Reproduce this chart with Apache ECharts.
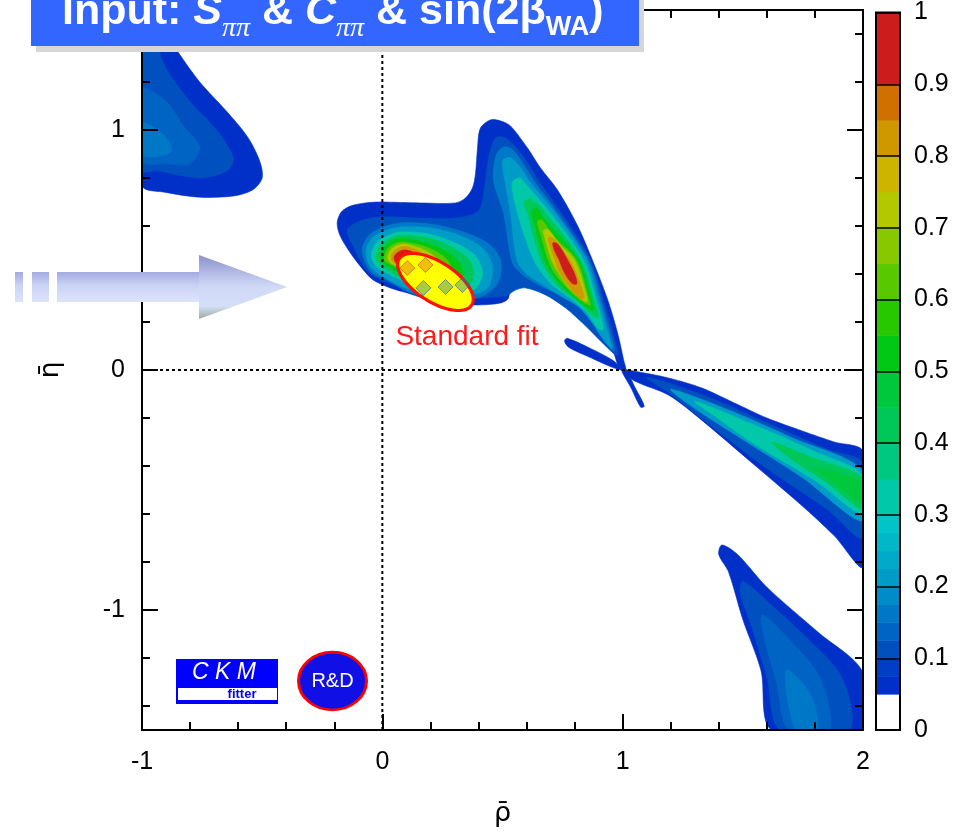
<!DOCTYPE html>
<html>
<head>
<meta charset="utf-8">
<title>CKM fit: S_pipi & C_pipi & sin(2beta_WA)</title>
<script src="https://cdn.jsdelivr.net/npm/echarts@6.0.0/dist/echarts.min.js"></script>
<style>
html,body{margin:0;padding:0;background:#fff;}
#chart{width:957px;height:832px;}
</style>
</head>
<body>
<div id="chart"></div>
<script>
// ================= DATA =================
const rhoRange = [-1, 2];
const etaRange = [-1.5, 1.5];
const xTickValues = [-1, 0, 1, 2];
const yTickValues = [-1, 0, 1];
const yMinorTickValues = [-1.4, -1.2, -0.8, -0.6, -0.4, -0.2, 0.2, 0.4, 0.6, 0.8, 1.2, 1.4];
const colorBarRange = [0, 1];

// confidence-level colour scale (band edges and their colours)
const clBandEdges = [0, 0.05, 0.075, 0.1, 0.125, 0.15, 0.175, 0.2, 0.225, 0.25, 0.275, 0.3,
  0.35, 0.4, 0.45, 0.5, 0.55, 0.6, 0.65, 0.7, 0.75, 0.8, 0.85, 0.9, 1.0];
const clPalette = ['#ffffff', '#0030c8', '#003ec8', '#0050c0', '#0064c4', '#0078c8', '#008cc8',
  '#009cc8', '#00aac8', '#00b8c8', '#00c4c8', '#00c8a8', '#00c880', '#00c858', '#00c83c',
  '#00c814', '#28c800', '#58c800', '#88c800', '#b4c800', '#ccb400', '#d09800', '#d07000', '#cc1c1c'];

// CL contours (rho, eta) : region inside ring has CL >= cl
const upperLeftBlob = [
  { cl: 0.05, ring: [[-1, 1.5], [-0.97, 1.5], [-0.9, 1.4], [-0.84, 1.31], [-0.76, 1.2], [-0.65, 1.08], [-0.56, 0.97], [-0.51, 0.87], [-0.5, 0.8], [-0.54, 0.75], [-0.62, 0.725], [-0.76, 0.72], [-0.9, 0.74], [-1, 0.77]] },
  { cl: 0.1, ring: [[-1, 1.5], [-0.95, 1.5], [-0.92, 1.3], [-0.81, 1.13], [-0.69, 1.0], [-0.62, 0.885], [-0.645, 0.83], [-0.76, 0.8], [-0.94, 0.83], [-1, 0.83]] },
  { cl: 0.125, ring: [[-1, 1.17], [-0.9, 1.12], [-0.83, 1.02], [-0.76, 0.93], [-0.8, 0.86], [-0.9, 0.86], [-1, 0.87]] },
  { cl: 0.16, ring: [[-1, 1.03], [-0.9, 0.97], [-0.88, 0.91], [-0.94, 0.89], [-1, 0.9]] }
];

const centralBlob = [
  { cl: 0.05, ring: [[-0.188, 0.613], [-0.171, 0.658], [-0.133, 0.683], [-0.071, 0.696], [-0.008, 0.7], [0.158, 0.696], [0.304, 0.696], [0.346, 0.717], [0.375, 0.758], [0.388, 0.821], [0.396, 0.925], [0.408, 1.008], [0.45, 1.042], [0.492, 1.038], [0.533, 1.017], [0.604, 0.925], [0.658, 0.842], [0.729, 0.75], [0.813, 0.6], [0.879, 0.446], [0.938, 0.292], [0.979, 0.154], [1.004, 0.042], [1.013, 0.0], [0.983, 0.017], [0.963, 0.071], [0.929, 0.133], [0.867, 0.217], [0.783, 0.3], [0.688, 0.371], [0.604, 0.4], [0.542, 0.404], [0.529, 0.363], [0.525, 0.3], [0.492, 0.279], [0.388, 0.271], [0.242, 0.279], [0.104, 0.321], [0.033, 0.342], [-0.038, 0.375], [-0.079, 0.417], [-0.133, 0.488], [-0.175, 0.558]] },
  { cl: 0.1, ring: [[-0.146, 0.583], [-0.092, 0.621], [-0.008, 0.638], [0.158, 0.633], [0.304, 0.633], [0.4, 0.663], [0.425, 0.758], [0.442, 0.883], [0.471, 0.967], [0.513, 0.967], [0.58, 0.9], [0.65, 0.79], [0.745, 0.654], [0.867, 0.458], [0.92, 0.292], [0.96, 0.15], [0.978, 0.06], [0.929, 0.1], [0.846, 0.183], [0.763, 0.258], [0.679, 0.313], [0.596, 0.342], [0.554, 0.333], [0.513, 0.308], [0.408, 0.3], [0.283, 0.279], [0.117, 0.333], [0.013, 0.367], [-0.058, 0.408], [-0.092, 0.458], [-0.117, 0.508]] }
];

const leftLobe = [
  { cl: 0.15, ring: [[-0.075, 0.458], [-0.083, 0.508], [-0.058, 0.558], [-0.008, 0.592], [0.075, 0.613], [0.2, 0.608], [0.325, 0.579], [0.438, 0.529], [0.492, 0.458], [0.483, 0.367], [0.417, 0.308], [0.263, 0.288], [0.117, 0.321], [0.025, 0.371], [-0.042, 0.404]] },
  { cl: 0.2, ring: [[-0.063, 0.458], [-0.067, 0.504], [-0.042, 0.55], [0.008, 0.579], [0.075, 0.596], [0.2, 0.592], [0.317, 0.563], [0.417, 0.508], [0.458, 0.433], [0.438, 0.342], [0.333, 0.308], [0.179, 0.317], [0.067, 0.354], [-0.008, 0.396], [-0.046, 0.425]] },
  { cl: 0.3, ring: [[-0.042, 0.458], [-0.042, 0.5], [-0.017, 0.538], [0.029, 0.563], [0.075, 0.575], [0.192, 0.567], [0.304, 0.529], [0.388, 0.475], [0.417, 0.4], [0.379, 0.333], [0.242, 0.325], [0.117, 0.358], [0.025, 0.4], [-0.017, 0.425]] },
  { cl: 0.4, ring: [[-0.025, 0.458], [-0.021, 0.496], [0.004, 0.529], [0.042, 0.554], [0.075, 0.563], [0.192, 0.55], [0.296, 0.508], [0.367, 0.45], [0.375, 0.371], [0.304, 0.333], [0.158, 0.35], [0.054, 0.396], [0, 0.433]] },
  { cl: 0.5, ring: [[-0.008, 0.458], [-0.004, 0.492], [0.017, 0.521], [0.05, 0.542], [0.079, 0.55], [0.188, 0.529], [0.283, 0.483], [0.333, 0.421], [0.317, 0.35], [0.179, 0.367], [0.075, 0.404], [0.017, 0.438]] },
  { cl: 0.6, ring: [[0.008, 0.458], [0.013, 0.488], [0.029, 0.513], [0.058, 0.529], [0.088, 0.533], [0.183, 0.513], [0.267, 0.463], [0.292, 0.392], [0.192, 0.383], [0.088, 0.417], [0.029, 0.442]] },
  { cl: 0.7, ring: [[0.025, 0.458], [0.025, 0.483], [0.042, 0.508], [0.067, 0.521], [0.096, 0.525], [0.175, 0.5], [0.238, 0.45], [0.225, 0.392], [0.117, 0.417], [0.042, 0.442]] },
  { cl: 0.8, ring: [[0.038, 0.458], [0.038, 0.479], [0.054, 0.5], [0.079, 0.513], [0.108, 0.513], [0.163, 0.488], [0.192, 0.442], [0.125, 0.425], [0.054, 0.442]] },
  { cl: 0.9, ring: [[0.05, 0.458], [0.05, 0.475], [0.067, 0.492], [0.092, 0.5], [0.125, 0.492], [0.15, 0.463], [0.108, 0.433], [0.063, 0.442]] }
];

const rightWing = [
  { cl: 0.15, ring: [[0.475, 0.9], [0.51, 0.93], [0.55, 0.91], [0.63, 0.79], [0.73, 0.654], [0.858, 0.458], [0.91, 0.292], [0.95, 0.15], [0.965, 0.08], [0.94, 0.1], [0.88, 0.19], [0.81, 0.27], [0.72, 0.32], [0.64, 0.36], [0.58, 0.4], [0.54, 0.45], [0.504, 0.654], [0.4625, 0.79]] },
  { cl: 0.2, ring: [[0.5, 0.87], [0.53, 0.885], [0.57, 0.85], [0.61, 0.79], [0.72, 0.654], [0.85, 0.458], [0.9, 0.292], [0.94, 0.15], [0.955, 0.09], [0.925, 0.12], [0.87, 0.2], [0.82, 0.26], [0.74, 0.31], [0.66, 0.36], [0.6, 0.4], [0.56, 0.458], [0.533, 0.654], [0.51, 0.79]] },
  { cl: 0.3, ring: [[0.54, 0.78], [0.57, 0.8], [0.6, 0.77], [0.7, 0.654], [0.838, 0.458], [0.89, 0.292], [0.92, 0.17], [0.9, 0.17], [0.85, 0.24], [0.78, 0.3], [0.7, 0.36], [0.63, 0.458], [0.5625, 0.654]] },
  { cl: 0.4, ring: [[0.59, 0.7], [0.62, 0.71], [0.68, 0.654], [0.825, 0.458], [0.88, 0.292], [0.9, 0.22], [0.87, 0.23], [0.82, 0.28], [0.73, 0.35], [0.66, 0.458], [0.604, 0.654]] },
  { cl: 0.5, ring: [[0.62, 0.66], [0.645, 0.675], [0.665, 0.64], [0.817, 0.458], [0.87, 0.292], [0.88, 0.25], [0.85, 0.26], [0.79, 0.31], [0.72, 0.38], [0.675, 0.458], [0.629, 0.62]] },
  { cl: 0.6, ring: [[0.645, 0.62], [0.665, 0.625], [0.71, 0.56], [0.808, 0.458], [0.86, 0.292], [0.865, 0.27], [0.84, 0.28], [0.78, 0.33], [0.72, 0.4], [0.69, 0.458], [0.655, 0.58]] },
  { cl: 0.7, ring: [[0.67, 0.58], [0.69, 0.585], [0.74, 0.52], [0.8, 0.458], [0.85, 0.31], [0.85, 0.285], [0.82, 0.3], [0.77, 0.35], [0.73, 0.41], [0.704, 0.458], [0.68, 0.54]] },
  { cl: 0.8, ring: [[0.69, 0.55], [0.71, 0.55], [0.75, 0.5], [0.79, 0.44], [0.84, 0.31], [0.83, 0.295], [0.8, 0.32], [0.76, 0.37], [0.73, 0.42], [0.717, 0.458], [0.7, 0.51]] },
  { cl: 0.9, ring: [[0.71, 0.53], [0.73, 0.525], [0.77, 0.46], [0.8, 0.4], [0.81, 0.36], [0.79, 0.36], [0.755, 0.41], [0.735, 0.46], [0.715, 0.5]] }
];

const pivotArms = [
  { cl: 0.05, ring: [[0.758, 0.121], [0.77, 0.132], [0.87, 0.088], [0.96, 0.04], [1.0, 0.0], [0.96, 0.01], [0.87, 0.05], [0.775, 0.095]] },
  { cl: 0.05, ring: [[0.995, 0.0], [1.015, 0.0], [1.05, -0.07], [1.09, -0.15], [1.075, -0.155], [1.035, -0.075]] }
];

const rightWedge = [
  { cl: 0.05, ring: [[1.0, 0.0], [1.05, -0.005], [1.19, -0.033], [1.33, -0.075], [1.46, -0.135], [1.6, -0.2], [1.75, -0.255], [1.88, -0.3], [2, -0.34], [2, -0.82], [1.88, -0.69], [1.74, -0.56], [1.53, -0.38], [1.33, -0.21], [1.19, -0.104], [1.05, -0.046]] },
  { cl: 0.1, ring: [[1.1, -0.03], [1.35, -0.11], [1.6, -0.22], [1.85, -0.33], [2, -0.39], [2, -0.7], [1.85, -0.58], [1.6, -0.41], [1.35, -0.22], [1.2, -0.1]] },
  { cl: 0.2, ring: [[1.2, -0.08], [1.45, -0.17], [1.7, -0.28], [2, -0.42], [2, -0.63], [1.75, -0.45], [1.5, -0.29], [1.3, -0.16]] },
  { cl: 0.3, ring: [[1.3, -0.13], [1.55, -0.23], [1.8, -0.34], [2, -0.44], [2, -0.6], [1.8, -0.46], [1.55, -0.31], [1.38, -0.19]] },
  { cl: 0.4, ring: [[1.62, -0.3], [1.8, -0.37], [2, -0.45], [2, -0.58], [1.85, -0.47], [1.7, -0.37]] },
  { cl: 0.45, ring: [[1.8, -0.41], [2, -0.47], [2, -0.56], [1.88, -0.47]] }
];

const lowerRightBlob = [
  { cl: 0.05, ring: [[1.41, -0.73], [1.44, -0.74], [1.49, -0.78], [1.6, -0.905], [1.81, -1.09], [2, -1.26], [2, -1.5], [1.62, -1.5], [1.575, -1.25], [1.5, -1.04], [1.44, -0.84], [1.4, -0.77]] },
  { cl: 0.1, ring: [[1.5, -0.88], [1.62, -0.98], [1.77, -1.12], [1.9, -1.26], [1.95, -1.4], [1.94, -1.5], [1.655, -1.5], [1.6, -1.28], [1.54, -1.08], [1.49, -0.93]] },
  { cl: 0.125, ring: [[1.58, -1.02], [1.69, -1.12], [1.82, -1.28], [1.86, -1.5], [1.69, -1.5], [1.64, -1.3], [1.59, -1.12]] },
  { cl: 0.15, ring: [[1.68, -1.25], [1.78, -1.35], [1.81, -1.5], [1.72, -1.5]] }
];

// standard fit 1-sigma ellipse: centre, semi-axes, tilt (deg)
const standardFitCenter = [0.221, 0.367];
const standardFitSemiAxes = [0.179, 0.083];
const standardFitAngleDeg = -32.6;
const fitHatchWarm = [[0.179, 0.4375], [0.104, 0.425]];
const fitHatchCool = [[0.171, 0.342], [0.263, 0.346], [0.333, 0.354]];

// dashed reference lines
const rhoZeroLine = [[0, -1.5], [0, 1.5]];
const etaZeroLine = [[-1, 0], [2, 0]];

// ================= CHART =================
const FONT = '"Liberation Sans", Arial, Helvetica, sans-serif';

function clColor(cl) {
  for (let i = 0; i < clPalette.length; i++) {
    if (cl >= clBandEdges[i] - 1e-9 && cl < clBandEdges[i + 1] - 1e-9) return clPalette[i];
  }
  return clPalette[clPalette.length - 1];
}

const allContours = [].concat(upperLeftBlob, centralBlob, leftLobe, rightWing, pivotArms, rightWedge, lowerRightBlob)
  .map((c, i) => ({ cl: c.cl, ring: c.ring, k: i }))
  .sort((a, b) => (a.cl - b.cl) || (a.k - b.k));

const colorBands = [];
for (let i = 0; i < clPalette.length; i++) colorBands.push([0.5, clBandEdges[i], clBandEdges[i + 1]]);

const chart = echarts.init(document.getElementById('chart'), null, { renderer: 'canvas', width: 957, height: 832 });

// title built from measured pieces
const mctx = document.createElement('canvas').getContext('2d');
function tw(str, font) { mctx.font = font; return mctx.measureText(str).width; }
const titleFonts = {
  main: 'bold 43px "Liberation Sans"',
  ital: 'italic bold 43px "Liberation Sans"',
  sub: 'italic 28px "Liberation Serif"',
  subBold: 'bold 27px "Liberation Sans"'
};
const titleY = { main: 12, ital: 12, sub: 29, subBold: 28 };
const titleParts = [['Input: ', 'main'], ['S', 'ital'], ['ππ', 'sub'], [' & ', 'main'], ['C', 'ital'], ['ππ', 'sub'], [' & sin(2β', 'main'], ['WA', 'subBold'], [')', 'main']];
const titleEls = [];
let tx = 62;
titleParts.forEach(([s, k]) => {
  titleEls.push({ type: 'text', x: tx, y: titleY[k], z: 102,
    style: { text: s, font: titleFonts[k], fill: '#ffffff', align: 'left', textAlign: 'left', verticalAlign: 'middle', textVerticalAlign: 'middle' } });
  tx += tw(s, titleFonts[k]);
});

const arrowShaftFill = new echarts.graphic.LinearGradient(0, 0, 0, 1, [
  { offset: 0, color: '#a4aae0' }, { offset: 0.45, color: '#cbd3f5' }, { offset: 1, color: '#dce4fc' }]);
const arrowHeadFill = new echarts.graphic.LinearGradient(0, 0, 0, 1, [
  { offset: 0, color: '#8c92cc' }, { offset: 0.5, color: '#d0daf7' }, { offset: 0.8, color: '#d4def8' }, { offset: 1, color: '#98ae9e' }]);

const axisLineStyle = { color: '#000', width: 2 };
const labelStyle = { fontSize: 25, color: '#000', fontFamily: FONT };

function mainX(pos, showLabel) {
  return {
    gridIndex: 0, type: 'value', position: pos, min: rhoRange[0], max: rhoRange[1], interval: 1,
    axisLine: { show: true, onZero: false, lineStyle: axisLineStyle },
    axisTick: { show: true, inside: true, length: 16, lineStyle: axisLineStyle },
    minorTick: { show: true, splitNumber: 5, length: 8, lineStyle: axisLineStyle },
    splitLine: { show: false }, minorSplitLine: { show: false },
    axisLabel: Object.assign({ show: showLabel, margin: 20 }, labelStyle),
    z: 10
  };
}
function mainY(pos, values, len, showLine, showLabel) {
  return {
    gridIndex: 0, type: 'value', position: pos, min: etaRange[0], max: etaRange[1],
    axisLine: { show: showLine, onZero: false, lineStyle: axisLineStyle },
    axisTick: { show: true, inside: true, length: len, customValues: values, lineStyle: axisLineStyle },
    minorTick: { show: false },
    splitLine: { show: false },
    axisLabel: Object.assign({ show: showLabel, margin: 17, customValues: values }, labelStyle),
    z: 10
  };
}

const xAxes = [mainX('bottom', true), mainX('top', false),
  { gridIndex: 1, type: 'value', min: 0, max: 1, show: false }];
xAxes[0].name = 'ρ̄';
xAxes[0].nameLocation = 'middle';
xAxes[0].nameGap = 70;
xAxes[0].nameTextStyle = { fontSize: 27, color: '#000', fontFamily: '"DejaVu Sans", sans-serif' };

const yAxes = [
  mainY('left', yTickValues, 16, true, true),
  mainY('left', yMinorTickValues, 8, false, false),
  mainY('right', yTickValues, 16, true, false),
  mainY('right', yMinorTickValues, 8, false, false),
  {
    gridIndex: 1, type: 'value', position: 'right', min: colorBarRange[0], max: colorBarRange[1], interval: 0.1,
    axisLine: { show: false, onZero: false }, axisTick: { show: false },
    splitLine: { show: true, lineStyle: { color: '#000', width: 1.5 } },
    axisLabel: Object.assign({ margin: 14, formatter: v => (v === 0 || v === 1) ? String(v) : (Math.round(v * 10) / 10).toFixed(1) }, labelStyle),
    z: 10
  }
];
yAxes[0].name = 'η̄';
yAxes[0].nameLocation = 'middle';
yAxes[0].nameRotate = 90;
yAxes[0].nameGap = 78;
yAxes[0].nameTextStyle = { fontSize: 27, color: '#000', fontFamily: '"DejaVu Sans", sans-serif' };

const option = {
  animation: false,
  backgroundColor: '#ffffff',
  textStyle: { fontFamily: FONT },
  grid: [
    { left: 142, top: 10, width: 721, height: 721, show: false },
    { left: 876, top: 8, width: 24, height: 722, show: false }
  ],
  xAxis: xAxes,
  yAxis: yAxes,
  series: [
    {
      name: 'CL contours', type: 'custom', coordinateSystem: 'cartesian2d', xAxisIndex: 0, yAxisIndex: 0,
      silent: true, clip: false, z: 2,
      data: allContours.map(c => [c.ring[0][0], c.ring[0][1], c.cl]),
      encode: { x: 0, y: 1 },
      renderItem: function (params, api) {
        const c = allContours[params.dataIndex];
        const cs = params.coordSys;
        const pts = c.ring.map(p => api.coord(p));
        const col = clColor(c.cl);
        return {
          type: 'polygon',
          shape: { points: pts, smooth: 0.3, smoothConstraint: [[cs.x, cs.y], [cs.x + cs.width, cs.y + cs.height]] },
          style: { fill: col, stroke: col, lineWidth: 0.6 }
        };
      }
    },
    {
      name: 'rho=0', type: 'line', xAxisIndex: 0, yAxisIndex: 0, data: rhoZeroLine, symbol: 'none', silent: true, z: 3,
      lineStyle: { color: '#000', width: 2, type: [3, 3] }
    },
    {
      name: 'eta=0', type: 'line', xAxisIndex: 0, yAxisIndex: 0, data: etaZeroLine, symbol: 'none', silent: true, z: 3,
      lineStyle: { color: '#000', width: 2, type: [3, 3] }
    },
    {
      name: 'Standard fit', type: 'custom', coordinateSystem: 'cartesian2d', xAxisIndex: 0, yAxisIndex: 0,
      silent: true, clip: false, z: 4,
      data: [[standardFitCenter[0], standardFitCenter[1], standardFitSemiAxes[0], standardFitSemiAxes[1], standardFitAngleDeg]],
      encode: { x: 0, y: 1 },
      renderItem: function (params, api) {
        const cx = api.value(0), cy = api.value(1), a = api.value(2), b = api.value(3);
        const th = api.value(4) * Math.PI / 180;
        const pts = [];
        for (let k = 0; k < 90; k++) {
          const t = 2 * Math.PI * k / 90;
          const du = a * Math.cos(t), dv = b * Math.sin(t);
          pts.push(api.coord([cx + du * Math.cos(th) - dv * Math.sin(th), cy + du * Math.sin(th) + dv * Math.cos(th)]));
        }
        return { type: 'polygon', shape: { points: pts }, style: { fill: '#ffff00', stroke: '#ff1000', lineWidth: 3.2 } };
      }
    },
    {
      name: 'hatch warm', type: 'scatter', xAxisIndex: 0, yAxisIndex: 0, data: fitHatchWarm, symbol: 'diamond', symbolSize: 15,
      silent: true, z: 5, itemStyle: { color: 'rgba(215,95,35,0.5)', borderColor: 'rgba(200,80,30,0.85)', borderWidth: 1 }
    },
    {
      name: 'hatch cool', type: 'scatter', xAxisIndex: 0, yAxisIndex: 0, data: fitHatchCool, symbol: 'diamond', symbolSize: 15,
      silent: true, z: 5, itemStyle: { color: 'rgba(40,125,165,0.5)', borderColor: 'rgba(40,110,160,0.85)', borderWidth: 1 }
    },
    {
      name: 'colour scale', type: 'custom', coordinateSystem: 'cartesian2d', xAxisIndex: 2, yAxisIndex: 4,
      silent: true, z: 2,
      data: colorBands,
      encode: { x: 0, y: [1, 2] },
      renderItem: function (params, api) {
        const lo = api.value(1), hi = api.value(2);
        const p1 = api.coord([0, hi]), p2 = api.coord([1, lo]);
        const children = [{
          type: 'rect', shape: { x: p1[0], y: p1[1], width: p2[0] - p1[0], height: p2[1] - p1[1] + 0.5 },
          style: { fill: clPalette[params.dataIndex] }
        }];
        if (params.dataIndex === colorBands.length - 1) {
          const q1 = api.coord([0, 1]), q2 = api.coord([1, 0]);
          children.push({ type: 'rect', z2: 10, shape: { x: q1[0], y: q1[1], width: q2[0] - q1[0], height: q2[1] - q1[1] },
            style: { fill: 'none', stroke: '#000', lineWidth: 2 } });
        }
        return { type: 'group', children: children };
      }
    }
  ],
  graphic: [
    // title box with shadow
    { type: 'rect', z: 100, shape: { x: 36, y: -10, width: 608, height: 62 }, style: { fill: '#d6d6d6' } },
    { type: 'rect', z: 101, shape: { x: 31, y: -10, width: 608, height: 56 }, style: { fill: '#3366ff' } }
  ].concat(titleEls).concat([
    // arrow
    { type: 'rect', z: 100, shape: { x: 15, y: 272, width: 8, height: 30 }, style: { fill: arrowShaftFill } },
    { type: 'rect', z: 100, shape: { x: 32, y: 272, width: 17, height: 30 }, style: { fill: arrowShaftFill } },
    { type: 'rect', z: 100, shape: { x: 57, y: 272, width: 143, height: 30 }, style: { fill: arrowShaftFill } },
    { type: 'polygon', z: 100, shape: { points: [[199, 255], [287, 287], [199, 319]] }, style: { fill: arrowHeadFill } },
    // Standard fit label
    { type: 'text', z: 100, x: 467, y: 337, style: { text: 'Standard fit', font: '28px "Liberation Sans"', fill: '#ff1a1a',
      align: 'center', textAlign: 'center', verticalAlign: 'middle', textVerticalAlign: 'middle' } },
    // CKMfitter logo
    { type: 'rect', z: 100, shape: { x: 176, y: 659, width: 102, height: 45 }, style: { fill: '#0000ff' } },
    { type: 'text', z: 101, x: 224, y: 673, style: { text: 'C K M', font: 'italic 23px "Liberation Sans"', fill: '#ffffff',
      align: 'center', textAlign: 'center', verticalAlign: 'middle', textVerticalAlign: 'middle' } },
    { type: 'rect', z: 101, shape: { x: 178, y: 688, width: 99, height: 12 }, style: { fill: '#ffffff' } },
    { type: 'text', z: 102, x: 242, y: 694.5, style: { text: 'fitter', font: 'bold 13px "Liberation Sans"', fill: '#0000ff',
      align: 'center', textAlign: 'center', verticalAlign: 'middle', textVerticalAlign: 'middle' } },
    // R&D logo
    { type: 'circle', z: 100, x: 332.5, y: 681, scaleY: 0.85, shape: { cx: 0, cy: 0, r: 34 },
      style: { fill: '#1010e6', stroke: '#ff0000', lineWidth: 3 } },
    { type: 'text', z: 101, x: 332.5, y: 681, style: { text: 'R&D', font: '20px "Liberation Sans"', fill: '#ffffff',
      align: 'center', textAlign: 'center', verticalAlign: 'middle', textVerticalAlign: 'middle' } }
  ])
};

chart.setOption(option);
</script>
</body>
</html>
